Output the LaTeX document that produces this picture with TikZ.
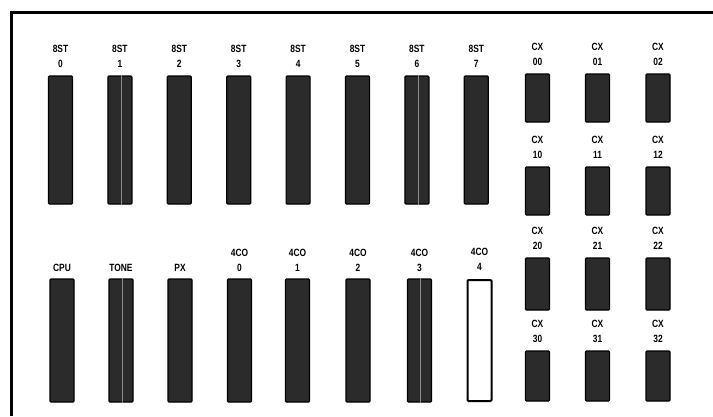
\documentclass[tikz,border=0pt]{standalone}
\usepackage{fontspec}
\setmainfont[FakeStretch=0.8]{Liberation Sans}
\usetikzlibrary{positioning}

\tikzset{
  slot/.style={draw=black, fill=black!83, line width=1.2pt, rounded corners=1pt,
    minimum width=24pt, inner sep=0pt},
  empty slot/.style={slot, fill=white, line width=2pt},
  slotname/.style={align=center, inner sep=0pt, font=\fontsize{10.5}{15}\selectfont\bfseries},
  streak/.style={black!45, line width=0.8pt}
}

\begin{document}
\begin{tikzpicture}[x=1pt, y=-1pt]
  \useasboundingbox (0,0) rectangle (713,416);

  % cabinet frame (only top and left edge visible)
  \draw[line width=3pt] (11,416) -- (11,12) -- (713,12);

  % upper row: 8ST cards 0..7
  \foreach \i in {0,...,7} {
    \node[slot, minimum height=128pt] (st\i) at ({60.5+59.4*\i}, 140) {};
    \node[slotname, above=8pt of st\i] (stlbl\i) {8ST\\\i};
  }

  % lower row: common cards and 4CO cards
  \node[slot, minimum height=123pt] (cpu)  at (62, 340.5) {};
  \node[slot, minimum height=123pt] (tone) at (121, 340.5) {};
  \node[slot, minimum height=123pt] (px)   at (180, 340.5) {};
  \node[slotname, above=7pt of cpu]  (cpulbl)  {CPU};
  \node[slotname, above=7pt of tone] (tonelbl) {TONE};
  \node[slotname, above=7pt of px]   (pxlbl)   {PX};
  \foreach \i/\x in {0/239.5, 1/297.5, 2/358, 3/419.5} {
    \node[slot, minimum height=123pt] (co\i) at (\x, 340.5) {};
    \node[slotname, above=7pt of co\i] (colbl\i) {4CO\\\i};
  }
  % 4CO 4 is not fitted
  \node[empty slot, minimum height=121pt] (co4) at (479.5, 340.5) {};
  \node[slotname, above=8pt of co4] (colbl4) {4CO\\4};

  % CX cards, four rows of three
  \foreach \r/\y/\h in {0/98/48, 1/191/48, 2/284/52, 3/376/50} {
    \foreach \c/\x in {0/537.5, 1/597.5, 2/658} {
      \node[slot, minimum height=\h pt] (cx\r\c) at (\x, \y) {};
      \node[slotname, above=8pt of cx\r\c] (cxlbl\r\c) {CX\\\r\c};
    }
  }

  % light streaks in some cards
  \foreach \n in {st1, st6, tone, co3}
    \draw[streak] ([xshift=1pt]\n.north) -- ([xshift=1pt]\n.south);
\end{tikzpicture}
\end{document}
